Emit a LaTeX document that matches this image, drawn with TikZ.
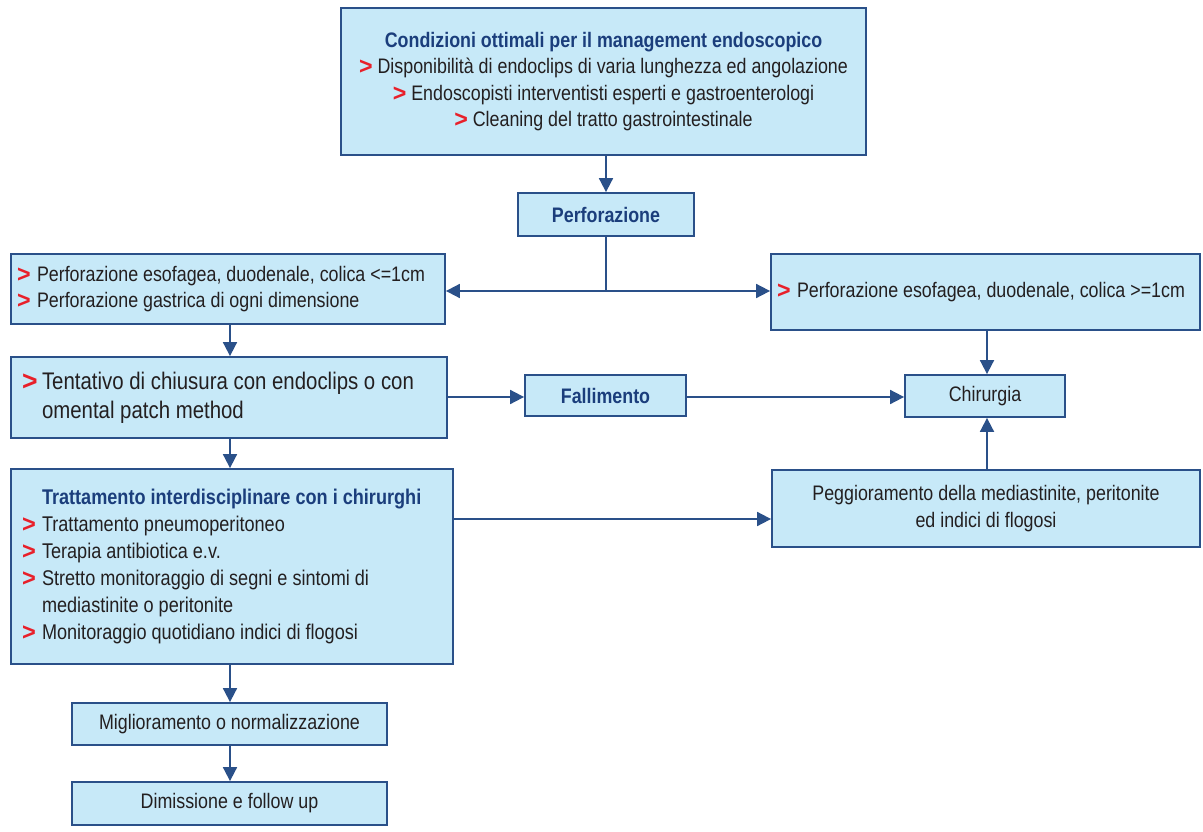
\documentclass[tikz,border=0pt]{standalone}
\usepackage{fontspec}
\setmainfont{Liberation Sans}[FakeStretch=0.85]
\usetikzlibrary{arrows.meta}
\definecolor{bfill}{HTML}{C7E9F8}
\definecolor{bdr}{HTML}{2A5089}
\definecolor{ttl}{HTML}{1B3E7C}
\definecolor{redb}{HTML}{E8202A}
\definecolor{txt}{HTML}{231F20}
\newcommand{\gt}{\textcolor{redb}{\raisebox{-1.2pt}{\scalebox{1.3}[1.15]{\bfseries >}}}}
\newcommand{\bl}{\makebox[20pt][l]{\gt}}
\newcommand{\ind}{\hspace*{20pt}}
\newcommand{\ns}{\spaceskip=0pt\xspaceskip=0pt\relax}
\begin{document}
\begin{tikzpicture}[x=1pt,y=-1pt,
  box/.style={draw=bdr,fill=bfill,line width=1.8pt,inner xsep=6pt,inner ysep=0pt,text=txt,font=\fontsize{21}{26.5}\selectfont},
  arr/.style={draw=bdr,line width=1.8pt,-{Triangle[length=14pt,width=14pt]}},
  ln/.style={draw=bdr,line width=1.8pt}]
\useasboundingbox (0,0) rectangle (1203,832);
\node[box,minimum width=525pt,minimum height=147pt,align=center] (top) at (603.5,81.5)
 {\textcolor{ttl}{\bfseries Condizioni ottimali per il management endoscopico}\\
  \gt\ Disponibilità di endoclips di varia lunghezza ed angolazione\\
  \gt\ Endoscopisti interventisti esperti e gastroenterologi\\
  \gt\ Cleaning del tratto gastrointestinale};
\node[box,minimum width=176pt,minimum height=43pt] (perf) at (606,214.5) {\textcolor{ttl}{\bfseries Perforazione}};
\node[box,text width=422pt,minimum height=70pt,align=left] (L1) at (228,289)
 {\ns\bl Perforazione esofagea, duodenale, colica <=1cm\\
  \bl Perforazione gastrica di ogni dimensione};
\node[box,text width=417pt,minimum height=76pt,align=left] (R1) at (985.5,292)
 {\ns\bl Perforazione esofagea, duodenale, colica >=1cm};
\node[box,text width=424pt,minimum height=81pt,align=left,font=\fontsize{24}{29}\selectfont] (L2) at (229,397.5)
 {\ns\hspace*{5pt}\bl Tentativo di chiusura con endoclips o con\\
  \hspace*{5pt}\ind omental patch method};
\node[box,minimum width=161pt,minimum height=41pt] (fall) at (605.5,395.5) {\textcolor{ttl}{\bfseries Fallimento}};
\node[box,minimum width=160pt,minimum height=42pt] (chir) at (985,396) {Chirurgia};
\node[box,text width=430pt,minimum height=195pt,align=left,font=\fontsize{21.3}{27}\selectfont] (L3) at (232,566.5)
 {\ns\hspace*{5pt}\ind\textcolor{ttl}{\bfseries Trattamento interdisciplinare con i chirurghi}\\
  \hspace*{5pt}\bl Trattamento pneumoperitoneo\\
  \hspace*{5pt}\bl Terapia antibiotica e.v.\\
  \hspace*{5pt}\bl Stretto monitoraggio di segni e sintomi di\\
  \hspace*{5pt}\ind mediastinite o peritonite\\
  \hspace*{5pt}\bl Monitoraggio quotidiano indici di flogosi};
\node[box,minimum width=428pt,minimum height=77pt,align=center] (pegg) at (986,508.5)
 {Peggioramento della mediastinite, peritonite\\ ed indici di flogosi};
\node[box,minimum width=315pt,minimum height=42pt] (mig) at (229.5,724) {Miglioramento o normalizzazione};
\node[box,minimum width=315pt,minimum height=43pt] (dim) at (229.5,803.5) {Dimissione e follow up};
% connectors
\draw[arr] (top.south -| perf.north) -- (perf.north);
\draw[ln] (perf.south) -- (606,291) coordinate (split);
\draw[arr] (split) -- (split -| L1.east);
\draw[arr] (split) -- (split -| R1.west);
\draw[arr] (230,0 |- L1.south) -- (230,0 |- L2.north);
\draw[arr] (L2.east |- 0,397) -- (fall.west |- 0,397);
\draw[arr] (fall.east |- 0,397) -- (chir.west |- 0,397);
\draw[arr] (987,0 |- R1.south) -- (987,0 |- chir.north);
\draw[arr] (230,0 |- L2.south) -- (230,0 |- L3.north);
\draw[arr] (L3.east |- 0,519) -- (pegg.west |- 0,519);
\draw[arr] (987,0 |- pegg.north) -- (987,0 |- chir.south);
\draw[arr] (230,0 |- L3.south) -- (230,0 |- mig.north);
\draw[arr] (230,0 |- mig.south) -- (230,0 |- dim.north);
\end{tikzpicture}
\end{document}
